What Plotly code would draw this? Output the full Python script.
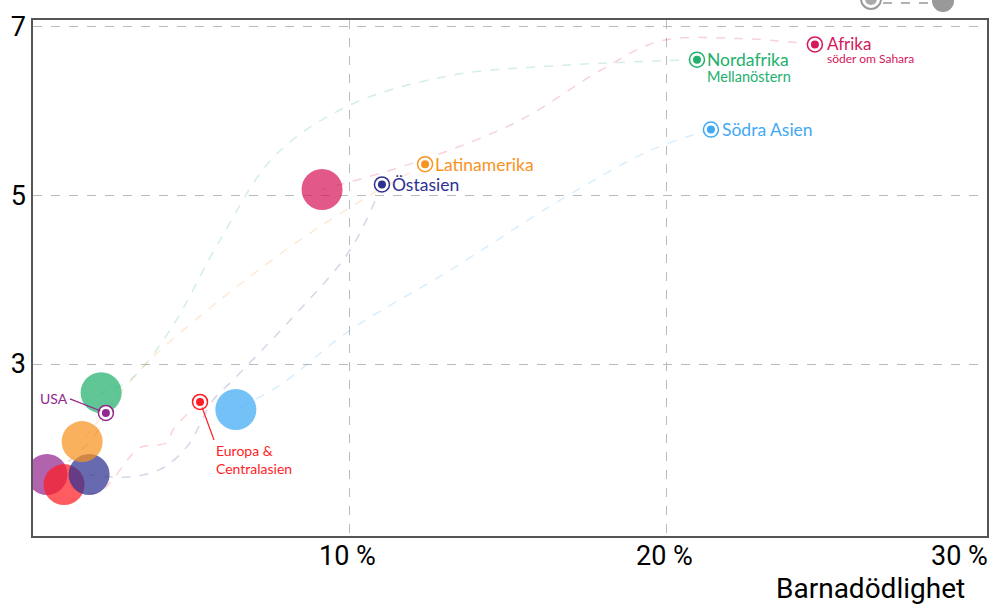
import plotly.graph_objects as go

# ---------------- data ----------------
regions = ["Afrika", "Nordafrika", "Södra Asien", "Latinamerika", "Östasien", "USA", "Europa"]
colors = ["#d5175c", "#22b06d", "#3fa9f5", "#f7931e", "#2e3192", "#93278f", "#ff1d25"]

# child mortality (%) trails, start -> end
trail_x = {
    "Afrika":       [24.67, 22.30, 19.78, 17.89, 15.36, 12.21, 9.12],
    "Nordafrika":   [20.95, 16.62, 13.15, 10.0, 7.63, 5.90, 4.32, 3.06, 2.15],
    "Södra Asien":  [21.39, 19.46, 16.62, 13.15, 10.0, 7.79, 6.40],
    "Latinamerika": [12.37, 10.63, 8.42, 5.90, 3.69, 2.84, 1.55],
    "Östasien":     [11.01, 10.0, 8.11, 6.31, 5.68, 4.86, 4.01, 2.97, 1.77],
    "USA":          [2.30, 1.96, 1.17, 0.44],
    "Europa":       [5.27, 4.42, 4.23, 3.38, 2.97, 2.52, 2.02, 0.98],
}
# babies per woman trails, start -> end
trail_y = {
    "Afrika":       [6.79, 6.86, 6.83, 6.48, 5.89, 5.41, 5.07],
    "Nordafrika":   [6.61, 6.54, 6.42, 6.07, 5.47, 4.47, 3.40, 2.81, 2.66],
    "Södra Asien":  [5.78, 5.53, 4.94, 4.11, 3.40, 2.75, 2.46],
    "Latinamerika": [5.37, 5.00, 4.47, 3.76, 3.05, 2.69, 2.08],
    "Östasien":     [5.13, 4.35, 3.52, 2.81, 2.57, 2.02, 1.75, 1.66, 1.69],
    "USA":          [2.42, 2.16, 1.86, 1.69],
    "Europa":       [2.55, 2.22, 2.07, 2.01, 1.86, 1.63, 1.47, 1.57],
}

x_ticks = [10, 20, 30]
x_ticktext = ["10 %", "20 %", "30 %"]
y_ticks = [3, 5, 7]
x_title = "Barnadödlighet"

LABEL_FONT = "Lato"
AXIS_FONT = "Roboto"


def rgba(hexc, a):
    h = hexc.lstrip("#")
    r, g, b = int(h[0:2], 16), int(h[2:4], 16), int(h[4:6], 16)
    return f"rgba({r},{g},{b},{a})"


fig = go.Figure()

# trails
for reg, c in zip(regions, colors):
    fig.add_trace(go.Scatter(
        x=trail_x[reg], y=trail_y[reg], mode="lines",
        line=dict(color=rgba(c, 0.2), width=1.5, dash="dash", shape="spline", smoothing=1.0),
        hoverinfo="skip", showlegend=False))

# end points (big bubbles)
end_order = ["USA", "Europa", "Östasien", "Latinamerika", "Nordafrika", "Södra Asien", "Afrika"]
for reg in end_order:
    c = colors[regions.index(reg)]
    fig.add_trace(go.Scatter(
        x=[trail_x[reg][-1]], y=[trail_y[reg][-1]], mode="markers",
        marker=dict(size=41, color=rgba(c, 0.72), line=dict(width=0)),
        showlegend=False, hoverinfo="skip"))

# start points (ring markers)
for reg, c in zip(regions, colors):
    fig.add_trace(go.Scatter(
        x=[trail_x[reg][0]], y=[trail_y[reg][0]], mode="markers",
        marker=dict(size=15, color="white", line=dict(width=1.5, color=c)),
        showlegend=False, hoverinfo="skip"))
    fig.add_trace(go.Scatter(
        x=[trail_x[reg][0]], y=[trail_y[reg][0]], mode="markers",
        marker=dict(size=8, color=c, line=dict(width=0)),
        showlegend=False, hoverinfo="skip"))

ann = []


def label(reg, text, size, xshift, yshift=0):
    c = colors[regions.index(reg)]
    ann.append(dict(x=trail_x[reg][0], y=trail_y[reg][0], xref="x", yref="y",
                    text=text, showarrow=False, xanchor="left", yanchor="middle",
                    xshift=xshift, yshift=yshift,
                    font=dict(family=LABEL_FONT, size=size, color=c)))


label("Afrika", "Afrika", 17, 10, 1)
label("Afrika", "söder om Sahara", 12, 10, -14)
label("Nordafrika", "Nordafrika", 17.5, 8, 0)
label("Nordafrika", "Mellanöstern", 14.5, 8, -17)
label("Södra Asien", "Södra Asien", 17.5, 9, 0)
label("Latinamerika", "Latinamerika", 17.5, 8, 0)
label("Östasien", "Östasien", 17.5, 8, 0)

# USA label with leader line
ann.append(dict(x=trail_x["USA"][0], y=trail_y["USA"][0], xref="x", yref="y",
                text="USA", showarrow=True, arrowhead=0, arrowwidth=1.2,
                arrowcolor=colors[5], ax=-36, ay=-14, standoff=6,
                xanchor="right", yanchor="middle",
                font=dict(family=LABEL_FONT, size=14, color=colors[5])))
# Europa label with leader line
ann.append(dict(x=trail_x["Europa"][0], y=trail_y["Europa"][0], xref="x", yref="y",
                text="Europa &<br>Centralasien", showarrow=True, arrowhead=0, arrowwidth=1.2,
                arrowcolor=colors[6], ax=14, ay=38, standoff=6,
                xanchor="left", yanchor="top", align="left",
                font=dict(family=LABEL_FONT, size=14, color=colors[6])))

# x tick labels (the last one is right-aligned to stay inside the frame)
for v, t in zip(x_ticks, x_ticktext):
    last = v == x_ticks[-1]
    ann.append(dict(x=v, y=0, xref="x", yref="paper", text=t, showarrow=False,
                    xanchor="right" if last else "center", yanchor="middle",
                    yshift=-20, xshift=6 if last else -2,
                    font=dict(family=AXIS_FONT, size=27, color="black")))
# x-axis title
ann.append(dict(x=(967 - 33) / 954, y=0, xref="paper", yref="paper", text=x_title,
                showarrow=False, xanchor="right", yanchor="middle", yshift=-52,
                font=dict(family=AXIS_FONT, size=28, color="black")))

# legend glyph at the top right (mostly cut off)
shapes = [
    dict(type="line", xref="paper", yref="paper", x0=(883 - 33) / 954, x1=(932 - 33) / 954,
         y0=(536 - 3) / 516, y1=(536 - 3) / 516, line=dict(color="#999999", width=1.5, dash="dash")),
    dict(type="circle", xref="paper", yref="paper", xsizemode="pixel", ysizemode="pixel",
         xanchor=(871 - 33) / 954, yanchor=(536 + 1) / 516, x0=-10, x1=10, y0=-10, y1=10,
         line=dict(color="#999999", width=2), fillcolor="white"),
    dict(type="circle", xref="paper", yref="paper", xsizemode="pixel", ysizemode="pixel",
         xanchor=(871 - 33) / 954, yanchor=(536 + 1) / 516, x0=-6, x1=6, y0=-6, y1=6,
         line=dict(width=0), fillcolor="#aaaaaa"),
    dict(type="circle", xref="paper", yref="paper", xsizemode="pixel", ysizemode="pixel",
         xanchor=(943 - 33) / 954, yanchor=(536 - 1) / 516, x0=-11, x1=11, y0=-11, y1=11,
         line=dict(width=0), fillcolor="#999999"),
]

fig.update_layout(
    width=995, height=604,
    margin=dict(l=33, r=8, t=20, b=68, autoexpand=False),
    paper_bgcolor="white", plot_bgcolor="white",
    showlegend=False,
    annotations=ann, shapes=shapes,
    xaxis=dict(range=[0, 30.1], tickvals=x_ticks[:-1], showticklabels=False, automargin=False,
               showgrid=True, gridcolor="#bbbbbb", griddash="dash", gridwidth=1,
               zeroline=False, showline=True, linecolor="#555555", linewidth=1.5, mirror=True,
               ticks=""),
    yaxis=dict(range=[0.96, 7.08], tickvals=y_ticks, automargin=False,
               showgrid=True, gridcolor="#bbbbbb", griddash="dash", gridwidth=1,
               zeroline=False, showline=True, linecolor="#555555", linewidth=1.5, mirror=True,
               ticks="", tickfont=dict(family=AXIS_FONT, size=27, color="black")),
)

fig.write_html("out.html", config={"displayModeBar": False},
               post_script="document.body.style.margin='0';document.body.style.overflow='hidden';")
